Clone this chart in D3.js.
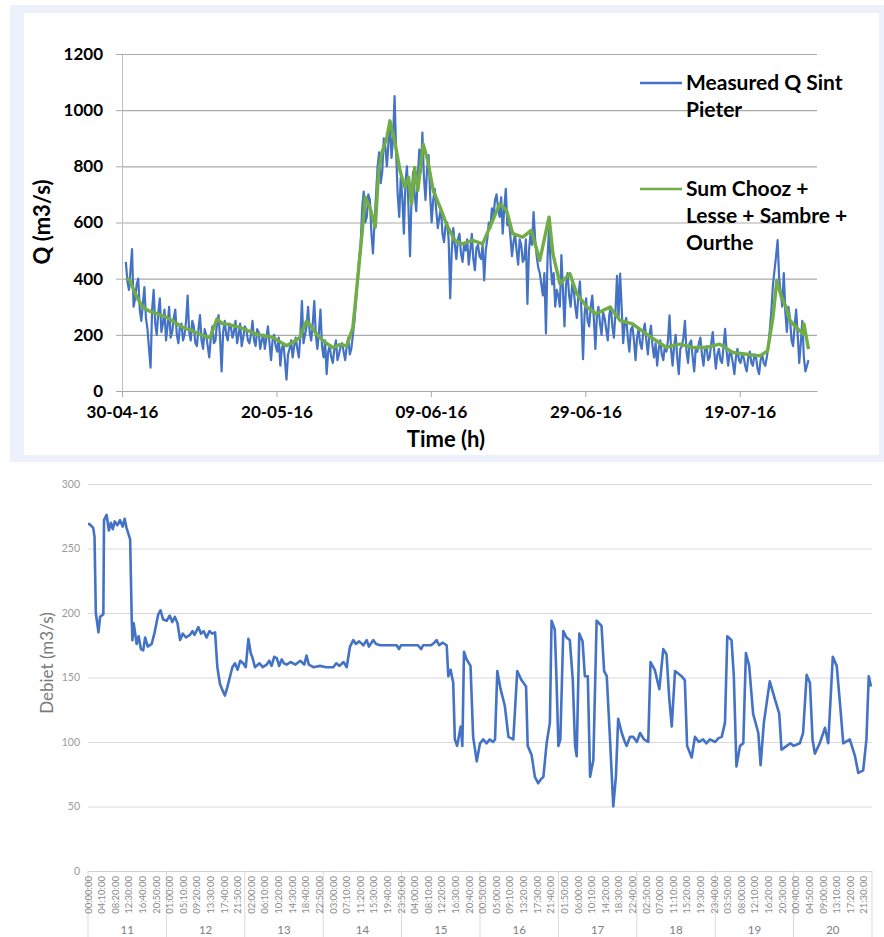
<!DOCTYPE html>
<html><head><meta charset="utf-8">
<script src="https://cdn.jsdelivr.net/npm/d3@7"></script>
<style>body{margin:0;background:#fff}svg{display:block}</style>
</head><body>
<svg id="c" width="884" height="937"></svg>
<script>
// ---------- TOP CHART DATA ----------
const topXTickLabels = ["30-04-16","20-05-16","09-06-16","29-06-16","19-07-16"];
const topYTicks = [0,200,400,600,800,1000,1200];
const topSeriesNames = ["Measured Q Sint Pieter","Sum Chooz + Lesse + Sambre + Ourthe"];
// measured series: one value every 0.2 day starting at day 0.5 after 30-04-16
const blueStartDay = 0.5;
const blueStepDays = 0.2;
const blueValues = [
 460,390,360,430,505,300,330,380,400,290, 250,310,370,260,220,150,83,290,360,240,
 200,280,330,210,240,290,180,230,300,190, 210,260,290,200,170,230,240,180,200,250,
 340,210,180,250,230,170,160,220,270,180, 150,220,200,160,120,190,230,170,180,240,
 270,190,70,210,250,200,180,240,230,190, 210,250,170,200,240,160,190,230,220,180,
 170,200,250,180,160,220,210,150,180,200, 150,190,230,170,110,180,200,160,140,190,
 90,150,170,110,40,130,150,180,120,160, 190,150,120,200,320,170,200,230,300,210,
 180,240,320,200,150,210,290,160,120,180, 60,140,160,120,100,150,180,110,130,160,
 170,140,110,160,190,130,150,200,250,320, 400,470,520,650,710,600,620,700,680,560,
 490,600,700,800,850,740,780,900,870,800, 880,960,830,900,1050,850,700,620,760,690,
 560,740,800,650,480,700,780,700,640,760, 860,780,920,760,680,790,840,700,600,680,
 720,640,580,620,650,560,530,590,600,540, 330,500,580,520,470,540,560,490,460,520,
 500,540,450,500,560,470,430,510,520,480, 470,520,394,500,540,600,580,650,620,680,
 700,650,620,690,560,650,720,590,610,550, 480,530,560,500,450,540,520,460,470,540,
 310,500,560,520,637,540,480,440,420,380, 340,420,205,470,580,450,380,420,300,360,
 340,300,484,360,230,380,420,340,300,380, 360,300,260,340,390,280,113,270,330,250,
 230,300,340,260,150,270,300,240,200,280, 260,220,180,270,300,230,190,280,410,260,
 418,300,170,240,260,190,140,220,230,180, 110,190,220,170,150,210,240,180,130,200,
 233,160,120,170,90,150,180,130,110,160, 140,180,269,150,90,160,200,120,60,150,
 160,190,250,140,100,170,180,120,70,150, 140,170,190,130,90,150,160,110,120,170,
 210,140,80,130,150,110,100,160,221,140, 90,140,130,100,60,120,150,110,100,130,
 120,90,70,120,140,100,90,130,120,80, 60,110,130,100,90,120,160,220,290,380,
 430,480,537,400,350,300,420,280,210,300, 260,180,160,230,290,200,100,170,250,120,
 70,90,110
];
// summed series: [day after 30-04-16, value]
const greenDays = [0.6,1.0,1.5,2.0,2.7,3.5,4.5,5.8,6.8,7.9,9.0,10.1,11.0,11.4,12.3,13.0,13.6,14.5,15.3,16.3,
 17.4,18.5,19.6,20.5,21.3,22.2,23.0,23.9,24.5,25.2,26.2,27.3,28.2,29.1,29.9,30.5,31.0,31.5,32.1,32.8,
 33.2,33.6,34.3,34.7,35.3,36.0,36.6,37.1,37.5,37.9,38.3,39.0,39.6,40.3,41.2,42.0,43.1,44.1,45.4,46.7,
 48.0,48.9,49.8,50.6,51.9,53.0,54.1,55.3,55.8,56.7,58.0,58.9,60.2,61.4,63.2,64.5,66.1,67.9,69.2,70.5,
 72.2,73.9,75.7,77.4,79.1,80.9,82.6,83.6,84.3,84.8,85.4,86.0,86.5,87.3,88.2,88.3,88.9];
const greenValues = [400,395,360,330,298,285,275,262,245,226,215,202,192,190,256,240,238,232,226,215,
 202,196,190,175,161,175,190,250,230,202,175,155,165,161,226,393,536,690,654,583,
 773,844,903,962,891,785,725,761,666,796,714,879,820,714,654,595,536,524,536,524,
 607,666,643,560,548,572,465,619,489,382,418,346,299,275,299,251,239,203,179,155,
 167,155,155,167,137,131,125,143,263,394,334,299,251,227,203,239,149];

// ---------- BOTTOM CHART DATA ----------
const bottomYTicks = [0,50,100,150,200,250,300];
const dayLabels = ["11","12","13","14","15","16","17","18","19","20"];
const timeLabels = [
 "00:00:00","04:10:00","08:20:00","12:30:00","16:40:00","20:50:00",
 "01:00:00","05:10:00","09:20:00","13:30:00","17:40:00","21:50:00",
 "02:00:00","06:10:00","10:20:00","14:30:00","18:40:00","22:50:00",
 "03:00:00","07:10:00","11:20:00","15:30:00","19:40:00","23:50:00",
 "04:00:00","08:10:00","12:20:00","16:30:00","20:40:00",
 "00:50:00","05:00:00","09:10:00","13:20:00","17:30:00","21:40:00",
 "01:50:00","06:00:00","10:10:00","14:20:00","18:30:00","22:40:00",
 "02:50:00","07:00:00","11:10:00","15:20:00","19:30:00","23:40:00",
 "03:50:00","08:00:00","12:10:00","16:20:00","20:30:00",
 "00:40:00","04:50:00","09:00:00","13:10:00","17:20:00","21:30:00"
];
const tickStepHours = 250/60; // a label every 4h10m
// [hours since 11 00:00, debiet]
const debietHours = [0.0,0.4,1.6,2.0,2.4,3.2,3.7,4.7,4.9,5.7,6.4,7.0,7.6,8.2,9.0,9.8,10.6,11.2,11.8,12.9,
 13.4,13.6,14.0,14.9,15.5,16.2,16.9,17.5,18.3,19.5,20.4,21.5,22.2,23.0,24.1,25.0,25.8,26.6,27.4,28.2,
 29.0,30.0,31.2,32.0,32.6,33.8,34.6,35.4,36.3,37.2,38.0,38.9,39.6,40.4,41.2,41.9,42.6,43.5,44.2,45.0,
 45.8,46.6,47.5,48.3,49.1,49.8,50.4,51.1,52.5,53.5,54.7,55.5,56.2,57.0,57.8,58.5,59.3,60.0,60.8,62.0,
 63.5,65.0,66.2,66.9,67.6,69.0,71.0,73.0,75.1,76.0,77.0,78.2,79.2,80.2,81.2,82.0,83.0,84.3,85.3,86.0,
 87.3,88.2,89.4,92.0,94.5,95.2,95.8,98.0,99.6,101.0,102.0,102.6,105.0,106.0,106.7,107.5,108.5,109.8,110.3,111.0,
 111.8,112.3,113.0,114.1,114.6,115.1,115.9,117.1,117.9,119.0,120.0,121.0,122.0,123.0,124.0,124.6,125.3,126.3,127.6,128.7,
 130.2,131.4,132.7,134.1,134.6,135.8,136.8,137.8,138.6,139.4,140.4,141.4,141.9,142.9,143.4,144.0,144.6,145.5,146.5,147.5,
 148.4,149.1,149.6,150.4,151.4,152.1,153.0,153.7,154.7,155.7,157.2,158.0,158.8,159.8,160.8,161.6,162.3,163.4,164.2,164.9,
 165.9,166.9,168.0,169.0,170.2,171.5,172.2,173.5,174.9,176.1,177.1,177.9,178.7,179.7,181.7,182.7,183.4,184.8,185.8,187.0,
 188.3,189.3,190.4,192.0,193.0,194.0,195.0,195.7,197.0,197.7,198.5,199.6,200.6,201.4,202.4,203.6,205.2,205.9,206.9,208.7,
 210.3,211.6,212.3,213.9,215.0,216.0,217.9,218.9,220.0,221.0,221.8,222.5,224.0,225.6,226.6,228.0,229.2,230.2,231.2,233.2,
 234.8,235.8,237.3,238.3,239.0,239.7];
const debietValues = [269,269,266,259,200,185,197,199,272,276,264,270,265,271,268,272,267,273,266,257,
 194,179,192,176,182,172,171,181,174,176,185,199,202,195,194,198,193,197,192,179,
 184,181,183,186,183,189,184,186,181,186,184,185,158,145,140,136,142,151,158,161,
 156,163,161,158,180,169,165,158,161,158,160,163,159,166,165,159,164,161,160,162,
 160,163,160,167,160,158,159,158,158,161,159,162,158,174,179,176,178,175,179,174,
 179,176,175,175,175,172,175,175,175,175,172,175,175,177,179,175,177,175,151,156,
 146,102,97,112,97,170,164,159,104,85,99,102,99,102,100,102,155,141,128,104,
 102,155,148,143,97,90,73,68,71,73,99,115,194,187,150,97,102,186,181,179,
 148,97,89,184,178,151,151,73,86,194,190,155,151,102,50,73,118,107,101,97,
 104,104,100,107,102,100,162,156,141,172,168,135,112,155,151,148,97,88,104,100,
 102,99,102,100,103,104,115,182,179,151,81,97,99,169,159,122,107,82,115,147,
 133,122,94,97,99,97,99,107,152,146,102,91,99,111,99,166,159,130,99,102,
 89,76,78,102,151,143];

// ---------- DRAW ----------
(function () {
const svg = d3.select("#c");
const BLUE = "#4472C4", GREEN = "#70AD47";

// top panel frame
svg.append("rect").attr("x",10).attr("y",5).attr("width",874).attr("height",457).attr("fill","#edf1fb");
svg.append("rect").attr("x",24).attr("y",13).attr("width",855).attr("height",442).attr("fill","#ffffff");

const parse = d3.utcParse("%d-%m-%y");
const t0 = parse(topXTickLabels[0]);
const dayToDate = d => new Date(t0.getTime() + d * 864e5);
const xT = d3.scaleUtc().domain([t0, dayToDate(90)]).range([122, 817]);
const yT = d3.scaleLinear().domain([0, 1200]).range([391, 54]);
const topFont = "Lato, 'Open Sans', sans-serif";

const topG = svg.append("g");
// gridlines
topG.append("g").attr("transform","translate(122,0)")
  .call(d3.axisLeft(yT).tickValues(topYTicks).tickSize(-695).tickFormat(""))
  .call(g => { g.select(".domain").remove(); g.selectAll("line").attr("stroke","#a9a9a9").attr("stroke-width",1.2); });
// y axis with labels
topG.append("g").attr("transform","translate(122,0)")
  .call(d3.axisLeft(yT).tickValues(topYTicks).tickSize(6).tickSizeOuter(0).tickPadding(13).tickFormat(d3.format("d")))
  .call(g => {
    g.select(".domain").attr("stroke","#bdbdbd");
    g.selectAll(".tick line").attr("stroke","#a9a9a9");
    g.selectAll("text").attr("font-family",topFont).attr("font-weight","bold").attr("font-size",17).attr("fill","#000");
  });
// x axis
topG.append("g").attr("transform","translate(0,391)")
  .call(d3.axisBottom(xT).tickValues(topXTickLabels.map(parse)).tickSize(6).tickSizeOuter(0).tickPadding(9)
    .tickFormat(d3.utcFormat("%d-%m-%y")))
  .call(g => {
    g.select(".domain").attr("stroke","#a9a9a9").attr("stroke-width",1.2);
    g.selectAll(".tick line").attr("stroke","#a9a9a9");
    g.selectAll("text").attr("font-family",topFont).attr("font-weight","bold").attr("font-size",17).attr("fill","#000");
  });

const lineT = d3.line().x(d => xT(dayToDate(d[0]))).y(d => yT(d[1])).curve(d3.curveLinear);
const blueData = blueValues.map((v, i) => [blueStartDay + i * blueStepDays, v]);
const greenData = greenDays.map((d, i) => [d, greenValues[i]]);
topG.append("path").datum(blueData).attr("d", lineT).attr("fill","none").attr("stroke",BLUE)
  .attr("stroke-width",2.2).attr("stroke-linejoin","round");
topG.append("path").datum(greenData).attr("d", lineT).attr("fill","none").attr("stroke",GREEN)
  .attr("stroke-width",3.4).attr("stroke-linejoin","round");

// titles
topG.append("text").attr("transform","translate(50,222) rotate(-90)").attr("text-anchor","middle")
  .attr("font-family",topFont).attr("font-weight","bold").attr("font-size",22).text("Q (m3/s)");
topG.append("text").attr("x",446).attr("y",447).attr("text-anchor","middle")
  .attr("font-family",topFont).attr("font-weight","bold").attr("font-size",22).text("Time (h)");

// legend
const legendItems = [
  {color: BLUE, y: 83, lines: ["Measured Q Sint", "Pieter"]},
  {color: GREEN, y: 189, lines: ["Sum Chooz +", "Lesse + Sambre +", "Ourthe"]}
];
legendItems.forEach(it => {
  topG.append("line").attr("x1",640).attr("x2",682).attr("y1",it.y).attr("y2",it.y)
    .attr("stroke",it.color).attr("stroke-width",2.6);
  it.lines.forEach((t, j) => {
    topG.append("text").attr("x",686).attr("y",it.y + 7 + j * 27)
      .attr("font-family",topFont).attr("font-weight","bold").attr("font-size",21).attr("fill","#000").text(t);
  });
});

// ---------- BOTTOM CHART ----------
const xB = d3.scaleLinear().domain([0, 240]).range([88, 872]);
const yB = d3.scaleLinear().domain([0, 300]).range([871, 484]);
const botFont = "Lato, 'Open Sans', sans-serif";
const bot = svg.append("g");

bot.append("g").attr("transform","translate(88,0)")
  .call(d3.axisLeft(yB).tickValues(bottomYTicks).tickSize(-784).tickPadding(8))
  .call(g => {
    g.select(".domain").remove();
    g.selectAll(".tick line").attr("stroke","#d9d9d9").attr("stroke-width",1);
    g.selectAll("text").attr("font-family",botFont).attr("font-size",10.5).attr("fill","#9a9a9a");
  });
bot.selectAll(".tick").filter(d => d === 0).select("line").attr("stroke","#cfcfcf");

// day separators
bot.selectAll("line.sep").data(d3.range(dayLabels.length + 1)).join("line").attr("class","sep")
  .attr("x1", i => xB(i * 24)).attr("x2", i => xB(i * 24)).attr("y1", 871).attr("y2", 940)
  .attr("stroke","#d9d9d9").attr("stroke-width",1);

// time labels
bot.selectAll("text.tl").data(timeLabels).join("text").attr("class","tl")
  .attr("transform", (d, i) => `translate(${xB(i * tickStepHours) + 3.5},876) rotate(-90)`)
  .attr("text-anchor","end").attr("font-family",botFont).attr("font-size",9.5).attr("fill","#8c8c8c")
  .text(d => d);
// day labels
bot.selectAll("text.dl").data(dayLabels).join("text").attr("class","dl")
  .attr("x", (d, i) => xB(i * 24 + 12)).attr("y", 934).attr("text-anchor","middle")
  .attr("font-family",botFont).attr("font-size",11.5).attr("fill","#7f7f7f").text(d => d);

// y title
bot.append("text").attr("transform","translate(53,663) rotate(-90)").attr("text-anchor","middle")
  .attr("font-family",botFont).attr("font-size",17).attr("fill","#7a7a7a").text("Debiet (m3/s)");

// line
const debietData = debietHours.map((h, i) => [h, debietValues[i]]);
bot.append("path").datum(debietData)
  .attr("d", d3.line().x(d => xB(d[0])).y(d => yB(d[1])))
  .attr("fill","none").attr("stroke",BLUE).attr("stroke-width",2.6).attr("stroke-linejoin","round");
})();
</script>
</body></html>
